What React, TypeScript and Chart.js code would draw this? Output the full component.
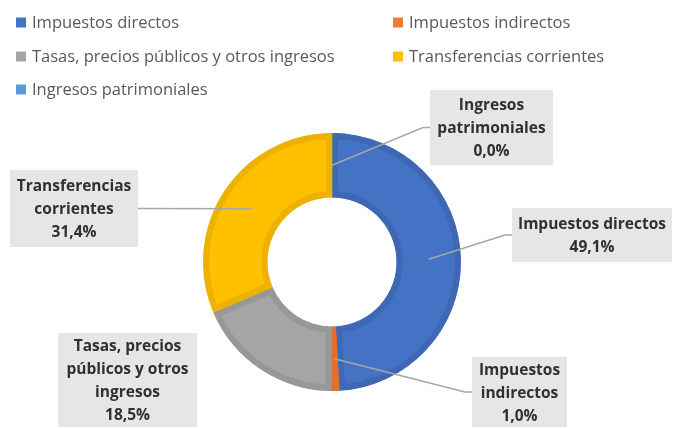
import React, { useEffect, useRef } from "react";
import { Chart, registerables } from "chart.js";

Chart.register(...registerables);

const categories = [
  "Impuestos directos",
  "Impuestos indirectos",
  "Tasas, precios públicos y otros ingresos",
  "Transferencias corrientes",
  "Ingresos patrimoniales",
];
const shares = [49.1, 1.0, 18.5, 31.4, 0.0];
const valueLabels = ["49,1%", "1,0%", "18,5%", "31,4%", "0,0%"];
const labelLines = [
  ["Impuestos directos"],
  ["Impuestos", "indirectos"],
  ["Tasas, precios", "públicos y otros", "ingresos"],
  ["Transferencias", "corrientes"],
  ["Ingresos", "patrimoniales"],
];
const fillColors = ["#4472C4", "#ED7D31", "#A5A5A5", "#FFC000", "#5B9BD5"];
const edgeColors = ["#3E68B4", "#E0702A", "#989898", "#EDB100", "#4F8EC9"];

// label boxes: [x, y, w, h], and whether a leader line is drawn
const boxes = [
  [512, 208, 160, 54],
  [472, 357, 95, 70],
  [58, 333, 139, 94],
  [10, 170, 128, 77],
  [430, 90, 123, 75],
];
const hasLeader = [true, true, false, true, true];
const legendSlots = [
  [16, 22.5],
  [393, 22.5],
  [16, 56.5],
  [393, 56.5],
  [16, 89.5],
];

const FONT = "'Open Sans', Lato, sans-serif";

const overlayPlugin = {
  id: "overlay",
  afterDraw(chart: any) {
    const ctx = chart.ctx;
    const meta = chart.getDatasetMeta(0);
    ctx.save();
    // legend
    ctx.font = `16.5px ${FONT}`;
    ctx.textBaseline = "middle";
    ctx.textAlign = "left";
    categories.forEach((c, i) => {
      const [x, y] = legendSlots[i];
      ctx.fillStyle = fillColors[i];
      ctx.fillRect(x, y - 5, 10, 10);
      ctx.fillStyle = "#595959";
      ctx.fillText(c, x + 16, y + 1);
    });
    // leader lines
    ctx.strokeStyle = "#A6A6A6";
    ctx.lineWidth = 1.5;
    categories.forEach((c, i) => {
      if (!hasLeader[i]) return;
      const arc = meta.data[i];
      const p = arc.getCenterPoint();
      const [bx, by, bw, bh] = boxes[i];
      const cy = by + bh / 2;
      const leftSide = bx > p.x;
      const edgeX = leftSide ? bx : bx + bw;
      const elbowX = leftSide ? bx - 7 : bx + bw + 7;
      ctx.beginPath();
      ctx.moveTo(p.x, p.y);
      if (Math.abs(cy - p.y) > 2) ctx.lineTo(elbowX, cy);
      ctx.lineTo(edgeX, cy);
      ctx.stroke();
    });
    // boxes and text
    ctx.font = `bold 15.5px ${FONT}`;
    ctx.textAlign = "center";
    categories.forEach((c, i) => {
      const [bx, by, bw, bh] = boxes[i];
      ctx.fillStyle = "#E7E6E6";
      ctx.fillRect(bx, by, bw, bh);
      const lines = [...labelLines[i], valueLabels[i]];
      const lh = 23;
      const top = by + bh / 2 - ((lines.length - 1) * lh) / 2 + 1.5;
      ctx.fillStyle = "#303030";
      lines.forEach((l, k) => ctx.fillText(l, bx + bw / 2, top + k * lh));
    });
    ctx.restore();
  },
};

export default function App() {
  const ref = useRef<HTMLCanvasElement>(null);
  useEffect(() => {
    if (!ref.current) return;
    const chart = new Chart(ref.current, {
      type: "doughnut",
      data: {
        labels: categories,
        datasets: [
          {
            data: shares,
            backgroundColor: fillColors,
            borderColor: edgeColors,
            borderWidth: 6,
            borderAlign: "inner",
            hoverBorderWidth: 0,
          } as any,
        ],
      },
      options: {
        responsive: false,
        animation: false,
        cutout: "50%",
        layout: { padding: { left: 203, right: 213, top: 133, bottom: 37 } },
        plugins: {
          legend: { display: false },
          tooltip: { enabled: false },
        },
      },
      plugins: [overlayPlugin],
    });
    return () => chart.destroy();
  }, []);
  return (
    <div style={{ position: "fixed", left: 0, top: 0, width: 674, height: 428, background: "#fff" }}>
      <canvas ref={ref} width={674} height={428} />
    </div>
  );
}
